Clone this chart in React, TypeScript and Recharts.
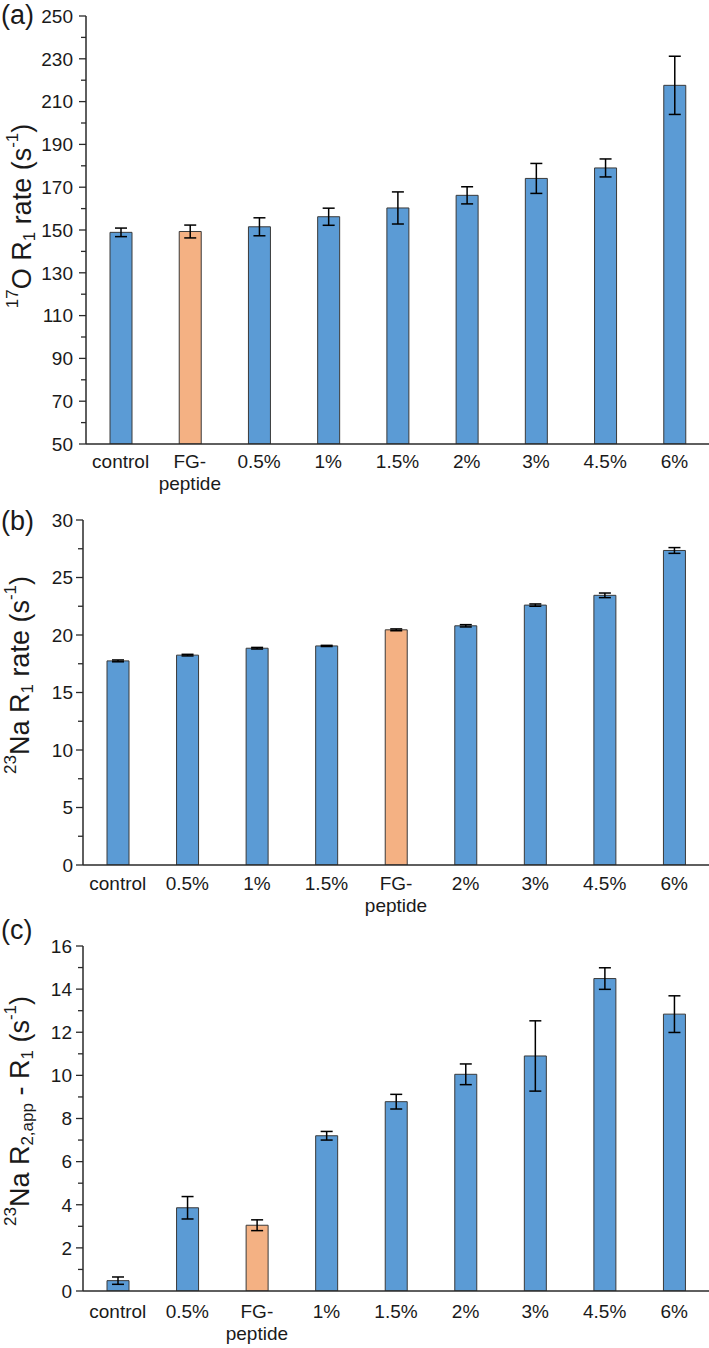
import React from "react";
import { BarChart, Bar, XAxis, YAxis, ErrorBar, Cell } from "recharts";

// Panel (a): 17O R1 rate
const catsA = ["control", "FG-peptide", "0.5%", "1%", "1.5%", "2%", "3%", "4.5%", "6%"];
const valsA = [148.9, 149.3, 151.5, 156.2, 160.3, 166.2, 174.1, 179.0, 217.6];
const errsA = [2.0, 3.0, 4.2, 4.0, 7.5, 4.0, 7.0, 4.2, 13.6];
const ticksA = [50, 60, 70, 80, 90, 100, 110, 120, 130, 140, 150, 160, 170, 180, 190, 200, 210, 220, 230, 240, 250];
const majorA = [50, 70, 90, 110, 130, 150, 170, 190, 210, 230, 250];

// Panel (b): 23Na R1 rate
const catsB = ["control", "0.5%", "1%", "1.5%", "FG-peptide", "2%", "3%", "4.5%", "6%"];
const valsB = [17.75, 18.25, 18.85, 19.05, 20.45, 20.8, 22.6, 23.45, 27.35];
const errsB = [0.08, 0.07, 0.07, 0.05, 0.08, 0.1, 0.1, 0.2, 0.25];
const ticksB = [0, 2.5, 5, 7.5, 10, 12.5, 15, 17.5, 20, 22.5, 25, 27.5, 30];
const majorB = [0, 5, 10, 15, 20, 25, 30];

// Panel (c): 23Na R2,app - R1
const catsC = ["control", "0.5%", "FG-peptide", "1%", "1.5%", "2%", "3%", "4.5%", "6%"];
const valsC = [0.48, 3.86, 3.05, 7.2, 8.78, 10.05, 10.9, 14.49, 12.84];
const errsC = [0.17, 0.52, 0.25, 0.2, 0.34, 0.48, 1.63, 0.5, 0.85];
const ticksC = [0, 1, 2, 3, 4, 5, 6, 7, 8, 9, 10, 11, 12, 13, 14, 15, 16];
const majorC = [0, 2, 4, 6, 8, 10, 12, 14, 16];

const HIGHLIGHT = "FG-peptide";
const BLUE = "#5B9BD5";
const ORANGE = "#F4B183";
const FONT = '"Liberation Sans", Arial, Helvetica, sans-serif';
const TEXT = "#1a1a1a";
const AXIS = "#2a2a2a";

function build(cats: string[], vals: number[], errs: number[]) {
  return cats.map((c, i) => ({ name: c, value: vals[i], err: errs[i] }));
}

const YTick = (props: any) => {
  const { x, y, payload, majors, gap } = props;
  const isMajor = majors.includes(payload.value);
  return (
    <g>
      <line x1={x - (isMajor ? 7 : 5)} x2={x} y1={y} y2={y} stroke={AXIS} strokeWidth={1.3} />
      {isMajor && (
        <text x={x - gap} y={y} dy="0.36em" textAnchor="end" fontSize={19} fontFamily={FONT} fill={TEXT}>
          {payload.value}
        </text>
      )}
    </g>
  );
};

const XTick = (props: any) => {
  const { x, y, payload, base } = props;
  const parts = payload.value === HIGHLIGHT ? ["FG-", "peptide"] : [payload.value];
  return (
    <text x={x} y={y + base} textAnchor="middle" fontSize={19} fontFamily={FONT} fill={TEXT}>
      {parts.map((p: string, i: number) => (
        <tspan key={i} x={x} dy={i === 0 ? 0 : 22}>
          {p}
        </tspan>
      ))}
    </text>
  );
};

type Piece = { t: string; k: "n" | "sup" | "sub" };

const YTitle = ({ cx, cy, pieces }: { cx: number; cy: number; pieces: Piece[] }) => {
  let prev = 0;
  const spans = pieces.map((p, i) => {
    const off = p.k === "sup" ? -10 : p.k === "sub" ? 7 : 0;
    const dy = off - prev;
    prev = off;
    return (
      <tspan key={i} dy={dy} fontSize={p.k === "n" ? 27 : 17}>
        {p.t}
      </tspan>
    );
  });
  return (
    <text
      x={cx}
      y={cy}
      transform={`rotate(-90, ${cx}, ${cy})`}
      textAnchor="middle"
      dominantBaseline="central"
      fontFamily={FONT}
      fill={TEXT}
      fontSize={27}
    >
      {spans}
    </text>
  );
};

const titleA: Piece[] = [
  { t: "17", k: "sup" },
  { t: "O R", k: "n" },
  { t: "1", k: "sub" },
  { t: " rate (s", k: "n" },
  { t: "-1", k: "sup" },
  { t: ")", k: "n" },
];
const titleB: Piece[] = [
  { t: "23", k: "sup" },
  { t: "Na R", k: "n" },
  { t: "1", k: "sub" },
  { t: " rate (s", k: "n" },
  { t: "-1", k: "sup" },
  { t: ")", k: "n" },
];
const titleC: Piece[] = [
  { t: "23", k: "sup" },
  { t: "Na R", k: "n" },
  { t: "2,app", k: "sub" },
  { t: " - R", k: "n" },
  { t: "1", k: "sub" },
  { t: " (s", k: "n" },
  { t: "-1", k: "sup" },
  { t: ")", k: "n" },
];

type PanelProps = {
  data: { name: string; value: number; err: number }[];
  height: number;
  top: number;
  xh: number;
  yw: number;
  domain: [number, number];
  ticks: number[];
  majors: number[];
  gap: number;
  base: number;
  title: Piece[];
  tcx: number;
  tcy: number;
};

const Panel = (p: PanelProps) => (
  <BarChart
    width={709}
    height={p.height}
    data={p.data}
    margin={{ top: p.top, right: 0, bottom: 0, left: 0 }}
  >
    <XAxis
      dataKey="name"
      height={p.xh}
      tickLine={false}
      tickSize={0}
      tickMargin={0}
      interval={0}
      axisLine={{ stroke: AXIS, strokeWidth: 1.5 }}
      tick={(tp: any) => <XTick {...tp} base={p.base} />}
    />
    <YAxis
      type="number"
      width={p.yw}
      domain={p.domain}
      ticks={p.ticks}
      interval={0}
      allowDataOverflow
      tickLine={false}
      tickSize={0}
      tickMargin={0}
      axisLine={{ stroke: AXIS, strokeWidth: 1.5 }}
      tick={(tp: any) => <YTick {...tp} majors={p.majors} gap={p.gap} />}
      label={{ content: () => <YTitle cx={p.tcx} cy={p.tcy} pieces={p.title} /> }}
    />
    <Bar dataKey="value" barSize={22} stroke="#3a3a3a" strokeWidth={1} isAnimationActive={false}>
      {p.data.map((d, i) => (
        <Cell key={i} fill={d.name === HIGHLIGHT ? ORANGE : BLUE} />
      ))}
      <ErrorBar dataKey="err" width={6} stroke="#000" strokeWidth={1.5} direction="y" isAnimationActive={false} />
    </Bar>
  </BarChart>
);

const panelLabel = (txt: string, top: number) => (
  <div
    style={{
      position: "absolute",
      left: 1,
      top,
      fontSize: 27,
      fontFamily: FONT,
      color: TEXT,
      lineHeight: "31px",
    }}
  >
    {txt}
  </div>
);

export default function App() {
  return (
    <div
      style={{
        position: "absolute",
        left: 0,
        top: 0,
        width: 709,
        height: 1348,
        background: "#fff",
        overflow: "hidden",
      }}
    >
      <div style={{ position: "absolute", left: 0, top: 0 }}>
        <Panel
          data={build(catsA, valsA, errsA)}
          height={510}
          top={16}
          xh={66}
          yw={86}
          domain={[50, 250]}
          ticks={ticksA}
          majors={majorA}
          gap={13}
          base={24}
          title={titleA}
          tcx={22}
          tcy={216}
        />
      </div>
      <div style={{ position: "absolute", left: 0, top: 510 }}>
        <Panel
          data={build(catsB, valsB, errsB)}
          height={415}
          top={10}
          xh={60}
          yw={83}
          domain={[0, 30]}
          ticks={ticksB}
          majors={majorB}
          gap={10}
          base={25}
          title={titleB}
          tcx={20}
          tcy={165}
        />
      </div>
      <div style={{ position: "absolute", left: 0, top: 925 }}>
        <Panel
          data={build(catsC, valsC, errsC)}
          height={423}
          top={21}
          xh={57}
          yw={83}
          domain={[0, 16]}
          ticks={ticksC}
          majors={majorC}
          gap={11}
          base={27}
          title={titleC}
          tcx={20}
          tcy={186}
        />
      </div>
      {panelLabel("(a)", 0)}
      {panelLabel("(b)", 506)}
      {panelLabel("(c)", 915)}
    </div>
  );
}
